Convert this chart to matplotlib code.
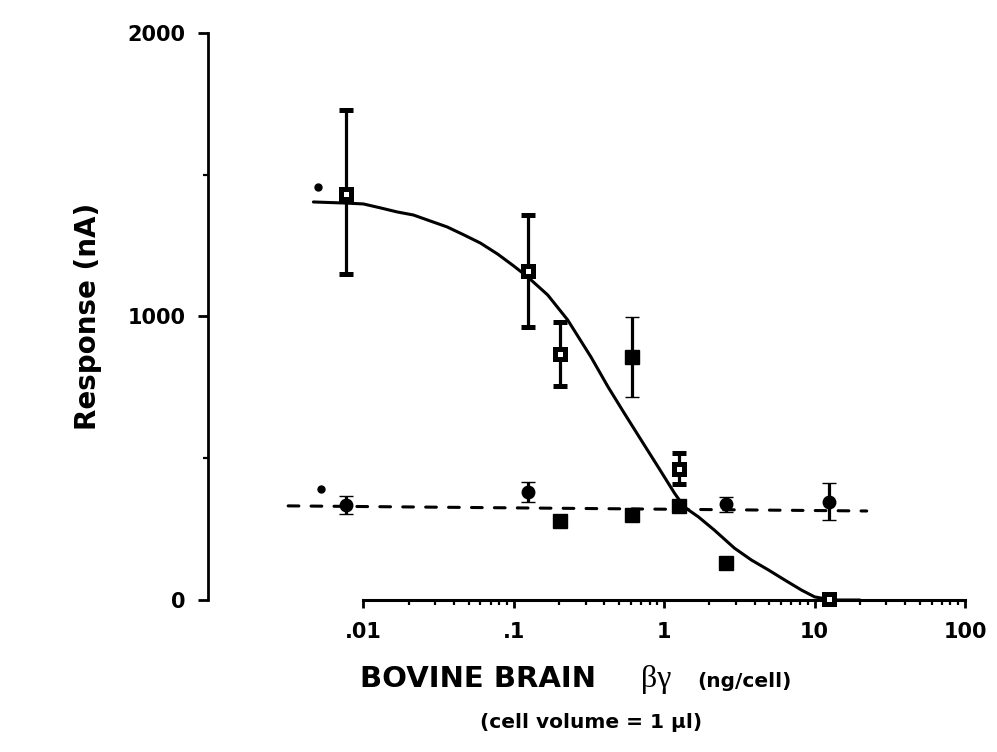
import matplotlib
matplotlib.use("Agg")
import matplotlib.pyplot as plt
from matplotlib.ticker import FixedLocator, FixedFormatter, NullFormatter

# ---------------- data ----------------
# open squares (response falling with beta-gamma)
open_x = [0.0077, 0.124, 0.203, 1.26, 12.4]
open_y = [1432, 1160, 868, 462, 5]
open_err_lo = [282, 197, 113, 53, 0]
open_err_hi = [296, 198, 113, 56, 0]

# filled squares of the falling series
filled_x = [0.61, 2.59]
filled_y = [857, 130]
filled_err = [141, 0]

# baseline series (filled round symbols)
base_circ_x = [0.0077, 0.124, 2.59, 12.4]
base_circ_y = [335, 381, 337, 347]
base_circ_err = [33, 34, 27, 65]

# baseline series (filled squares)
base_sq_x = [0.203, 0.61, 1.26]
base_sq_y = [280, 300, 332]
base_sq_err = [15, 0, 0]

# small control dots
dot_x = [0.0050, 0.0052]
dot_y = [1457, 392]

# fitted curve (solid)
fit_x = [0.00465, 0.0077, 0.01, 0.013, 0.0167, 0.0215, 0.0278, 0.036, 0.0465,
         0.060, 0.0782, 0.100, 0.124, 0.168, 0.228, 0.326,
         0.424, 0.541, 0.703, 0.912, 1.17, 1.36, 1.69, 2.15, 2.93, 3.80,
         4.93, 6.31, 8.18, 10.0, 13.0, 20.0]
fit_y = [1404, 1400, 1397, 1383, 1369, 1358, 1337, 1316, 1288,
         1259, 1220, 1178, 1139, 1076, 988, 857,
         751, 660, 564, 469, 377, 328, 293, 247, 183, 141,
         106, 71, 35, 11, 0, 0]

# baseline (dashed)
dash_x = [0.00316, 22.2]
dash_y = [332, 314]

x_ticks = [0.01, 0.1, 1, 10, 100]
x_tick_labels = [".01", ".1", "1", "10", "100"]
y_ticks = [0, 1000, 2000]
y_tick_labels = ["0", "1000", "2000"]

# ---------------- figure ----------------
W, H = 997, 752
fig = plt.figure(figsize=(W / 100, H / 100), dpi=100)
ax = fig.add_axes([208 / W, 1 - 600 / H, 757 / W, 567 / H])
ax.set_xscale("log")
ax.set_xlim(10 ** (-2 - 155 / 150), 100)
ax.set_ylim(0, 2000)

for s in ("top", "right"):
    ax.spines[s].set_visible(False)
ax.spines["bottom"].set_bounds(0.01, 100)
ax.spines["bottom"].set_linewidth(2.2)
ax.spines["left"].set_linewidth(2.0)

ax.xaxis.set_major_locator(FixedLocator(x_ticks))
ax.xaxis.set_major_formatter(FixedFormatter(x_tick_labels))
minor = [m * d for d in (0.01, 0.1, 1, 10) for m in range(2, 10)]
ax.xaxis.set_minor_locator(FixedLocator(minor))
ax.xaxis.set_minor_formatter(NullFormatter())
ax.yaxis.set_major_locator(FixedLocator(y_ticks))
ax.yaxis.set_major_formatter(FixedFormatter(y_tick_labels))
ax.yaxis.set_minor_locator(FixedLocator([500, 1500]))

ax.tick_params(axis="x", which="major", direction="out", length=6, width=2.0, pad=10)
ax.tick_params(axis="x", which="minor", direction="out", length=3.5, width=1.6)
ax.tick_params(axis="y", which="major", direction="out", length=7, width=2.0, pad=9)
ax.tick_params(axis="y", which="minor", direction="out", length=3.5, width=1.6)
for lab in ax.get_xticklabels() + ax.get_yticklabels():
    lab.set_fontfamily("DejaVu Sans")
    lab.set_fontweight("bold")
    lab.set_fontsize(15)

# curves
ax.plot(fit_x, fit_y, color="black", lw=2.2, solid_capstyle="round",
        solid_joinstyle="round", clip_on=False, zorder=3)
ax.plot(dash_x, dash_y, color="black", lw=2.2, ls=(0, (3.5, 4.0)),
        dash_capstyle="round", clip_on=False, zorder=3)

ekw = dict(color="black", ecolor="black", elinewidth=2.3, capsize=5, capthick=2.6,
           ls="none", clip_on=False, zorder=4)

ax.errorbar(open_x, open_y, yerr=[open_err_lo, open_err_hi], marker="s", ms=7.5,
            mfc="white", mec="black", mew=3.6, **ekw)
ax.errorbar(filled_x, filled_y, yerr=filled_err, marker="s", ms=10,
            mfc="black", mec="black", mew=1, **ekw)
ax.errorbar(base_circ_x, base_circ_y, yerr=base_circ_err, marker="o", ms=9,
            mfc="black", mec="black", mew=1, **ekw)
ax.errorbar(base_sq_x, base_sq_y, yerr=base_sq_err, marker="s", ms=10,
            mfc="black", mec="black", mew=1, **ekw)
ax.plot(dot_x, dot_y, "o", color="black", ms=5, ls="none", clip_on=False, zorder=4)

# axis labels
fig.text(88 / W, 1 - 316 / H, "Response (nA)", rotation=90, ha="center", va="center",
         fontsize=20, fontweight="bold", family="DejaVu Sans")
fig.text(360 / W, 1 - 687 / H, "BOVINE BRAIN", ha="left", va="baseline",
         fontsize=21, fontweight="bold", family="DejaVu Sans")
fig.text(641 / W, 1 - 687 / H, "βγ", ha="left", va="baseline",
         fontsize=23, family=["Liberation Serif", "DejaVu Serif"])
fig.text(697 / W, 1 - 687 / H, "(ng/cell)", ha="left", va="baseline",
         fontsize=14.5, fontweight="bold", family="DejaVu Sans")
fig.text(591 / W, 1 - 723 / H, "(cell volume = 1 µl)", ha="center", va="center",
         fontsize=14.5, fontweight="bold", family="DejaVu Sans")

fig.savefig("out.png", dpi=100, facecolor="white")
